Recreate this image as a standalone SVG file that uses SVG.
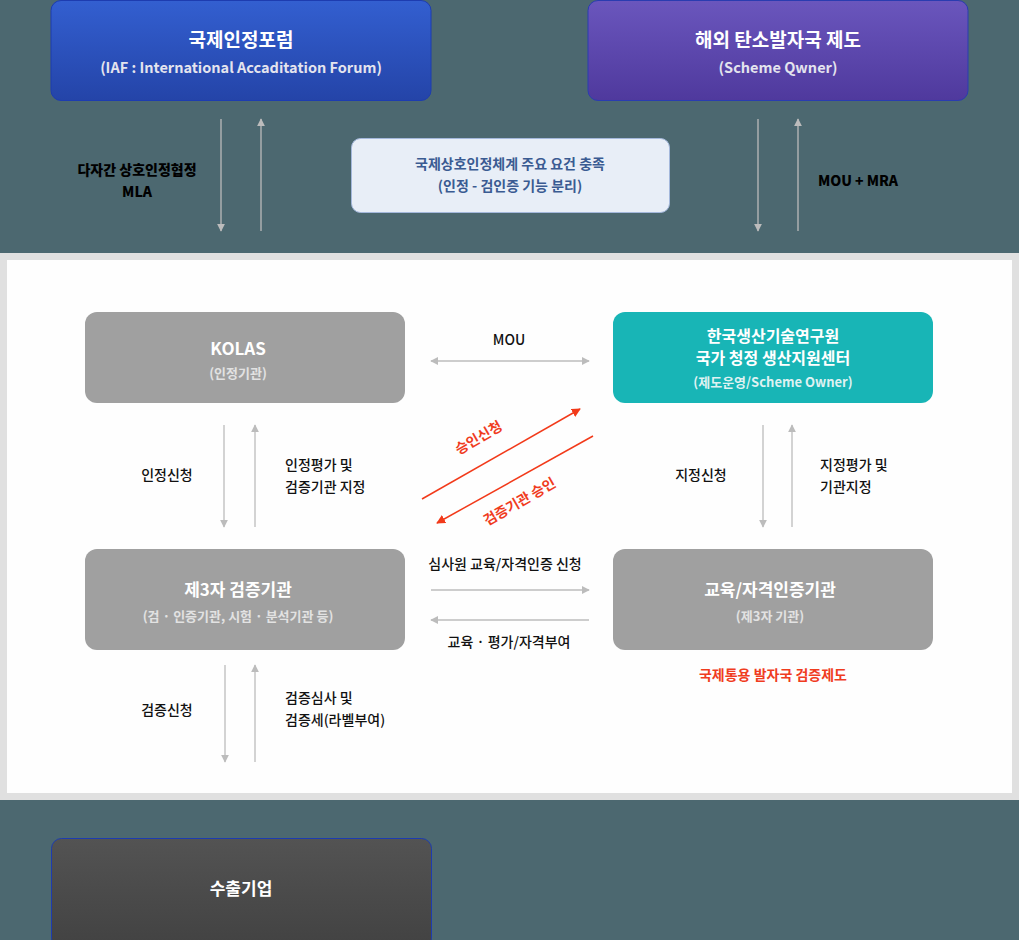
<svg xmlns="http://www.w3.org/2000/svg" width="1019" height="940" viewBox="0 0 1019 940">
<style>
text{font-family:"Noto Sans CJK KR","Noto Sans",sans-serif;text-anchor:middle}
.t{font-size:17px;font-weight:700;fill:#fff}
.tt{font-size:19px}
.s{font-size:13px;font-weight:700;fill:#e4e4ee}
.st{font-size:14.5px}
.sg{font-size:13px;font-weight:700;fill:#e2e2e2}
.l{font-size:14px;font-weight:500;fill:#111}
.lb{font-size:14px;font-weight:900;fill:#000}
.ll{text-anchor:start}
.r{font-size:14px;font-weight:700;fill:#f03c1e}
.c{stroke:#bcbcbc;stroke-width:1.3;fill:none}
.cr{stroke:#f23a1a;stroke-width:1.5;fill:none}
.g{fill:#a0a0a0}
</style>
<defs>
<linearGradient id="gb" x1="0" y1="0" x2="0" y2="1"><stop offset="0" stop-color="#335fd0"/><stop offset="1" stop-color="#2444a8"/></linearGradient>
<linearGradient id="gp" x1="0" y1="0" x2="0" y2="1"><stop offset="0" stop-color="#6a56bd"/><stop offset="1" stop-color="#4f399d"/></linearGradient>
<linearGradient id="gd" x1="0" y1="0" x2="0" y2="1"><stop offset="0" stop-color="#535353"/><stop offset="1" stop-color="#424242"/></linearGradient>
<marker id="ah" viewBox="0 0 10 10" refX="9" refY="5" markerWidth="8" markerHeight="8" markerUnits="userSpaceOnUse" orient="auto-start-reverse"><path d="M0,0L10,5L0,10z" fill="#bcbcbc"/></marker>
<marker id="ar" viewBox="0 0 10 10" refX="9" refY="5" markerWidth="9" markerHeight="9" markerUnits="userSpaceOnUse" orient="auto-start-reverse"><path d="M0,0L10,5L0,10z" fill="#f23a1a"/></marker>
</defs>
<rect width="1019" height="940" fill="#4c6870"/>
<rect x="0" y="253" width="1019" height="547" fill="#e0e0e0"/>
<rect x="7" y="260" width="1005" height="533" fill="#fefefe"/>

<g id="iaf"><rect x="51" y="0.5" width="380" height="100" rx="10" fill="url(#gb)" stroke="#1d3cb0"/><text class="t tt" x="241" y="47">국제인정포럼</text><text class="s st" x="241" y="73">(IAF : International Accaditation Forum)</text></g>
<g id="scheme"><rect x="588" y="0.5" width="380" height="100" rx="10" fill="url(#gp)" stroke="#2a3cb0"/><text class="t tt" x="778" y="47">해외 탄소발자국 제도</text><text class="s st" x="778" y="73">(Scheme Qwner)</text></g>
<g id="req"><rect x="351.5" y="138.5" width="318" height="74" rx="9" fill="#e8eef7" stroke="#a4b8dc"/><text x="510" y="169" style="font-size:14px;font-weight:700;fill:#3a5b92">국제상호인정체계 주요 요건 충족</text><text x="510" y="191" style="font-size:14px;font-weight:700;fill:#3a5b92">(인정 - 검인증 기능 분리)</text></g>
<g id="kolas"><rect class="g" x="85" y="312" width="320" height="91" rx="12"/><text class="t" x="238" y="355">KOLAS</text><text class="sg" x="238" y="378">(인정기관)</text></g>
<g id="kitech"><rect x="613" y="312" width="320" height="91" rx="12" fill="#18b5b6"/><text class="t" x="773" y="342" style="font-size:16px">한국생산기술연구원</text><text class="t" x="773" y="364" style="font-size:16px">국가 청정 생산지원센터</text><text class="s" x="773" y="387" style="fill:#dff2f2">(제도운영/Scheme Owner)</text></g>
<g id="vb"><rect class="g" x="85" y="549" width="320" height="101" rx="12"/><text class="t" x="238" y="596">제3자 검증기관</text><text class="sg" x="238" y="621">(검 · 인증기관, 시험 · 분석기관 등)</text></g>
<g id="edu"><rect class="g" x="613" y="549" width="320" height="101" rx="12"/><text class="t" x="770" y="596">교육/자격인증기관</text><text class="sg" x="770" y="621">(제3자 기관)</text></g>
<g id="export"><rect x="51.5" y="838.5" width="380" height="110" rx="10" fill="url(#gd)" stroke="#1d3cb0"/><text class="t" x="241" y="895">수출기업</text></g>

<g id="connectors">
<line class="c" x1="221" y1="119" x2="221" y2="231" marker-end="url(#ah)"/>
<line class="c" x1="261" y1="231" x2="261" y2="119" marker-end="url(#ah)"/>
<line class="c" x1="758" y1="119" x2="758" y2="231" marker-end="url(#ah)"/>
<line class="c" x1="798" y1="231" x2="798" y2="119" marker-end="url(#ah)"/>
<line class="c" x1="431" y1="361" x2="589" y2="361" marker-start="url(#ah)" marker-end="url(#ah)"/>
<line class="c" x1="224" y1="425" x2="224" y2="527" marker-end="url(#ah)"/>
<line class="c" x1="255" y1="527" x2="255" y2="425" marker-end="url(#ah)"/>
<line class="c" x1="763" y1="425" x2="763" y2="527" marker-end="url(#ah)"/>
<line class="c" x1="792" y1="527" x2="792" y2="425" marker-end="url(#ah)"/>
<line class="cr" x1="422" y1="499" x2="580" y2="409" marker-end="url(#ar)"/>
<line class="cr" x1="593" y1="436" x2="437" y2="523" marker-end="url(#ar)"/>
<line class="c" x1="431" y1="590" x2="589" y2="590" marker-end="url(#ah)"/>
<line class="c" x1="589" y1="620" x2="431" y2="620" marker-end="url(#ah)"/>
<line class="c" x1="225" y1="665" x2="225" y2="762" marker-end="url(#ah)"/>
<line class="c" x1="255" y1="762" x2="255" y2="665" marker-end="url(#ah)"/>
</g>

<g id="labels">
<text class="lb" x="137" y="175">다자간 상호인정협정</text>
<text class="lb" x="137" y="197">MLA</text>
<text class="lb" x="858" y="186">MOU + MRA</text>
<text class="l" x="509" y="345">MOU</text>
<text class="l" x="167" y="480">인정신청</text>
<text class="l ll" x="285" y="470">인정평가 및</text>
<text class="l ll" x="285" y="492">검증기관 지정</text>
<text class="r" x="0" y="0" transform="translate(481,442) rotate(-30)">승인신청</text>
<text class="r" x="0" y="0" transform="translate(522,506) rotate(-30)">검증기관 승인</text>
<text class="l" x="701" y="480">지정신청</text>
<text class="l ll" x="820" y="470">지정평가 및</text>
<text class="l ll" x="820" y="492">기관지정</text>
<text class="l" x="505" y="569">심사원 교육/자격인증 신청</text>
<text class="l" x="509" y="647">교육 · 평가/자격부여</text>
<text class="r" x="773" y="680">국제통용 발자국 검증제도</text>
<text class="l" x="167" y="715">검증신청</text>
<text class="l ll" x="285" y="703">검증심사 및</text>
<text class="l ll" x="285" y="725">검증세(라벨부여)</text>
</g>
</svg>
